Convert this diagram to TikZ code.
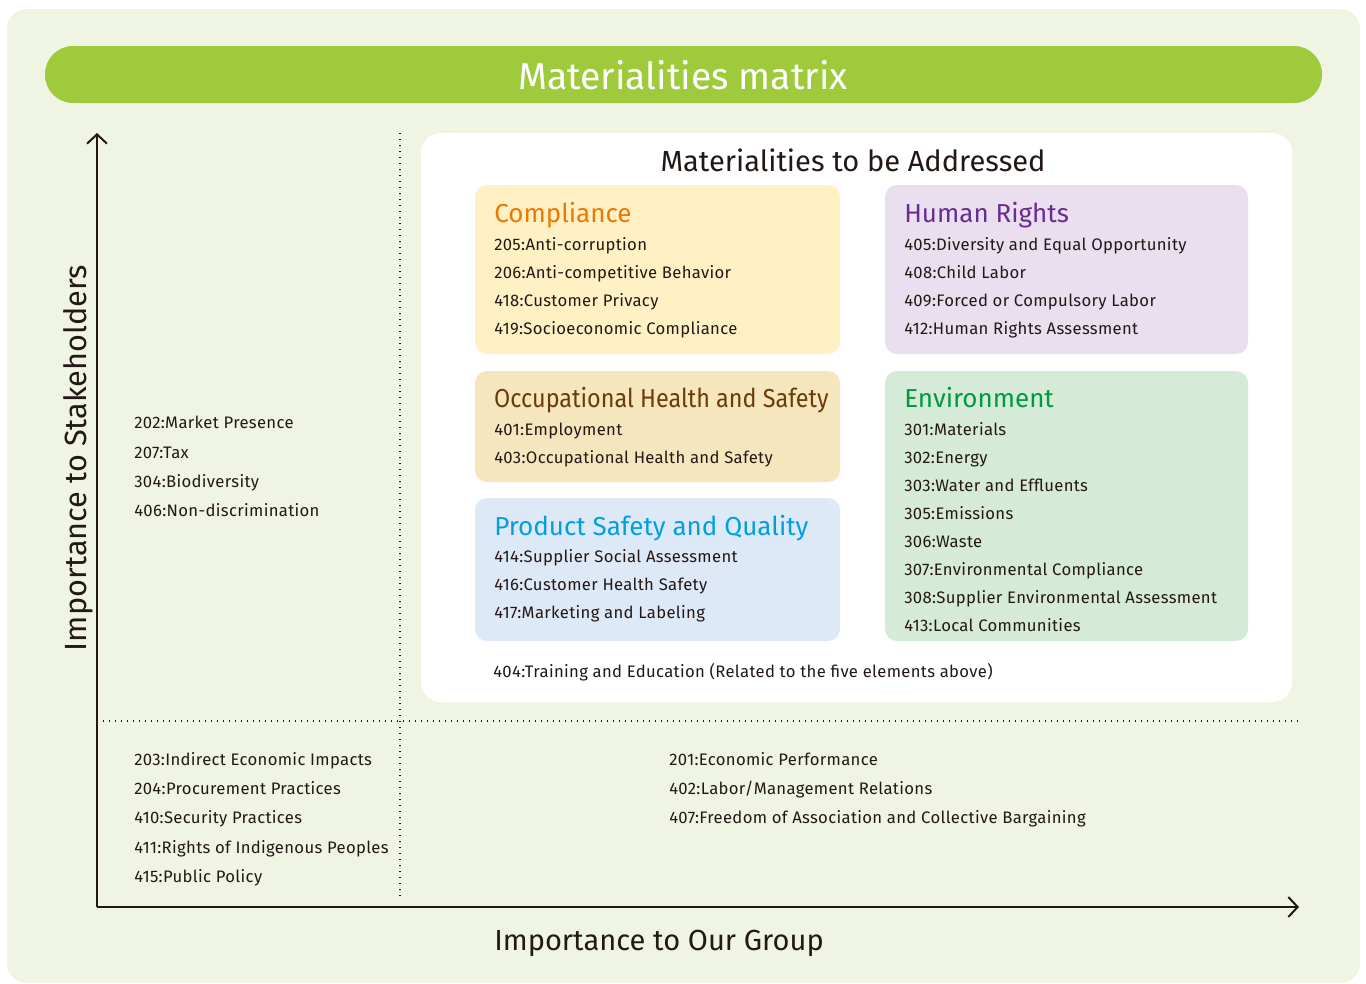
\documentclass[tikz,border=0pt]{standalone}
\usepackage{fontspec}
\setmainfont{Fira Sans}
\usepackage{tikz}
\usetikzlibrary{arrows.meta}
\usepackage{xcolor}
\definecolor{ColBg}{RGB}{240,245,227}
\definecolor{ColBar}{RGB}{159,202,60}
\definecolor{ColInk}{RGB}{35,24,21}
\definecolor{ColCompF}{RGB}{255,241,196}
\definecolor{ColCompT}{RGB}{238,120,0}
\definecolor{ColHumF}{RGB}{233,223,239}
\definecolor{ColHumT}{RGB}{106,44,145}
\definecolor{ColOccF}{RGB}{245,230,190}
\definecolor{ColOccT}{RGB}{106,60,10}
\definecolor{ColProdF}{RGB}{222,233,247}
\definecolor{ColProdT}{RGB}{0,160,224}
\definecolor{ColEnvF}{RGB}{214,234,216}
\definecolor{ColEnvT}{RGB}{0,154,62}
\tikzstyle{GroupBox}=[rounded corners=9pt]
\tikzstyle{GroupTitle}=[anchor=base west,inner sep=0pt,font=\fontsize{19.5}{19.5}\selectfont]
\tikzstyle{ItemText}=[anchor=base west,inner sep=0pt,text=ColInk,font=\fontsize{12.5}{12.5}\selectfont\addfontfeatures{LetterSpace=2}]
\tikzstyle{AxisLabel}=[anchor=base,inner sep=0pt,text=ColInk,font=\fontsize{21.8}{21.8}\selectfont]
\tikzstyle{AxisArrow}=[ColInk,line width=1.5pt,-{Straight Barb[length=7pt,width=15pt]}]
\tikzstyle{DotLine}=[ColInk,line width=1.1pt,dash pattern=on 1.1pt off 3.4pt]

\begin{document}
\begin{tikzpicture}[x=0.75pt,y=-0.75pt]
        \useasboundingbox(0,0)rectangle(1366,983);
        \fill[ColBg,rounded corners=15pt](7,9)rectangle(1360,983);
        \fill[ColBar,rounded corners=21pt](45,46)rectangle(1322,103);
        \node[anchor=base,inner sep=0pt,text=white,font=\fontsize{28}{28}\selectfont](title)at(683,89){Materialities matrix};
        \fill[white,rounded corners=15pt](421,133)rectangle(1292,702);
        \node[AxisLabel](addr)at(853,171){Materialities to be Addressed};
        \fill[GroupBox,ColCompF](475,185)rectangle(840,354);
        \fill[GroupBox,ColHumF](885,185)rectangle(1248,354);
        \fill[GroupBox,ColOccF](475,371)rectangle(840,482);
        \fill[GroupBox,ColProdF](475,498)rectangle(840,641);
        \fill[GroupBox,ColEnvF](885,371)rectangle(1248,641);
        \node[GroupTitle,text=ColCompT](comp)at(494,222){Compliance};
        \node[ItemText](c1)at(494,250){205:Anti-corruption};
        \node[ItemText](c2)at(494,278){206:Anti-competitive Behavior};
        \node[ItemText](c3)at(494,306){418:Customer Privacy};
        \node[ItemText](c4)at(494,334){419:Socioeconomic Compliance};
        \node[GroupTitle,text=ColHumT](hum)at(904,222){Human Rights};
        \node[ItemText](h1)at(904,250){405:Diversity and Equal Opportunity};
        \node[ItemText](h2)at(904,278){408:Child Labor};
        \node[ItemText](h3)at(904,306){409:Forced or Compulsory Labor};
        \node[ItemText](h4)at(904,334){412:Human Rights Assessment};
        \node[GroupTitle,text=ColOccT,xscale=0.9,transform shape](occ)at(494,407){Occupational Health and Safety};
        \node[ItemText](o1)at(494,435){401:Employment};
        \node[ItemText](o2)at(494,463){403:Occupational Health and Safety};
        \node[GroupTitle,text=ColProdT](prod)at(494,535){Product Safety and Quality};
        \node[ItemText](p1)at(494,562){414:Supplier Social Assessment};
        \node[ItemText](p2)at(494,590){416:Customer Health Safety};
        \node[ItemText](p3)at(494,618){417:Marketing and Labeling};
        \node[GroupTitle,text=ColEnvT](env)at(904,407){Environment};
        \node[ItemText](e1)at(904,435){301:Materials};
        \node[ItemText](e2)at(904,463){302:Energy};
        \node[ItemText](e3)at(904,491){303:Water and Effluents};
        \node[ItemText](e4)at(904,519){305:Emissions};
        \node[ItemText](e5)at(904,547){306:Waste};
        \node[ItemText](e6)at(904,575){307:Environmental Compliance};
        \node[ItemText](e7)at(904,603){308:Supplier Environmental Assessment};
        \node[ItemText](e8)at(904,631){413:Local Communities};
        \node[ItemText](train)at(493,677){404:Training and Education (Related to the five elements above)};
        \node[ItemText](l1)at(134,428){202:Market Presence};
        \node[ItemText](l2)at(134,458){207:Tax};
        \node[ItemText](l3)at(134,487){304:Biodiversity};
        \node[ItemText](l4)at(134,516){406:Non-discrimination};
        \node[ItemText](b1)at(134,765){203:Indirect Economic Impacts};
        \node[ItemText](b2)at(134,794){204:Procurement Practices};
        \node[ItemText](b3)at(134,823){410:Security Practices};
        \node[ItemText](b4)at(134,853){411:Rights of Indigenous Peoples};
        \node[ItemText](b5)at(134,882){415:Public Policy};
        \node[ItemText](m1)at(669,765){201:Economic Performance};
        \node[ItemText](m2)at(669,794){402:Labor/Management Relations};
        \node[ItemText](m3)at(669,823){407:Freedom of Association and Collective Bargaining};
        \coordinate(o)at(97,907);
        \coordinate(ytop)at(97,133);
        \coordinate(xend)at(1299,907);
        \coordinate(vtop)at(400,133);
        \coordinate(vbot)at(400,900);
        \coordinate(hl)at(103,721);
        \coordinate(hr)at(1300,721);
        \draw[DotLine](vtop)--(vbot);
        \draw[DotLine](hl)--(hr);
        \draw[AxisArrow](o)--(ytop);
        \draw[AxisArrow](o)--(xend);
        \node[AxisLabel,rotate=90,font=\fontsize{23}{23}\selectfont](ylab)at(86,458){Importance to Stakeholders};
        \node[AxisLabel](xlab)at(659,950){Importance to Our Group};
    \end{tikzpicture}
\end{document}
